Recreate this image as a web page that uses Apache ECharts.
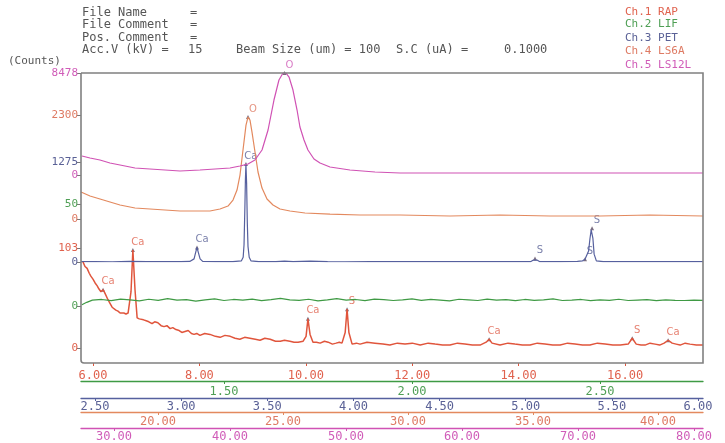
<!DOCTYPE html>
<html><head><meta charset="utf-8">
<script src="https://cdn.jsdelivr.net/npm/echarts@6/dist/echarts.min.js"></script>
<style>html,body{margin:0;padding:0;background:#fff}#c{width:725px;height:443px}</style>
</head><body><div id="c"></div>
<script>
// ---- data ----
const channelNames = ['Ch.1 RAP', 'Ch.2 LIF', 'Ch.3 PET', 'Ch.4 LS6A', 'Ch.5 LS12L'];
const yMaxLabels = [103, 50, 1275, 2300, 8478];
const xMins = [5.775, 1.1197, 2.4187, 16.92, 27.155];
const xMaxs = [17.465, 2.774, 6.029, 41.8, 80.776];
const ticksCh1 = [6, 8, 10, 12, 14, 16];
const ticksCh2 = [1.5, 2.0, 2.5];
const ticksCh3 = [2.5, 3.0, 3.5, 4.0, 4.5, 5.0, 5.5, 6.0];
const ticksCh4 = [20, 25, 30, 35, 40];
const ticksCh5 = [30, 40, 50, 60, 70, 80];

const ch1RAP = [[5.81,89],[5.85,84],[5.89,82],[5.93,77],[5.96,74],[6.0,71],[6.04,67],[6.08,64],[6.11,61],[6.15,58],[6.19,60],[6.22,57],[6.245,55],[6.28,50],[6.32,46],[6.36,42],[6.395,40],[6.43,39],[6.47,38],[6.51,36],[6.545,35],[6.58,36],[6.62,35],[6.66,36],[6.68,38],[6.715,58],[6.75,101],[6.79,60],[6.83,31],[6.87,30],[6.90,29],[6.95,29],[7.0,28],[7.05,27],[7.11,25],[7.16,27],[7.22,26],[7.28,23],[7.335,22],[7.39,23],[7.45,20],[7.5,21],[7.56,19],[7.62,18],[7.67,16],[7.73,17],[7.79,18],[7.85,15],[7.9,14],[7.95,15],[8.01,13],[8.1,15],[8.2,14],[8.3,12],[8.39,11],[8.48,13],[8.58,12],[8.67,10],[8.76,9],[8.85,11],[8.95,10],[9.05,9],[9.14,8],[9.23,10],[9.33,9],[9.43,7],[9.52,7],[9.6,8],[9.70,7],[9.78,6],[9.855,6],[9.95,7],[10.005,12],[10.04,30],[10.08,14],[10.135,6],[10.2,6],[10.27,5],[10.35,7],[10.42,6],[10.5,4],[10.57,5],[10.63,6],[10.68,5],[10.74,16],[10.775,40],[10.81,16],[10.87,4],[10.95,5],[11.02,4],[11.15,6],[11.3,5],[11.45,4],[11.58,3],[11.72,5],[11.865,4],[12.0,5],[12.15,3],[12.3,5],[12.43,4],[12.57,3],[12.71,3],[12.85,5],[12.99,4],[13.13,3],[13.275,3],[13.39,6],[13.445,9],[13.5,5],[13.65,3],[13.8,5],[13.93,4],[14.07,3],[14.215,3],[14.35,5],[14.495,4],[14.64,3],[14.78,3],[14.92,5],[15.06,4],[15.2,3],[15.34,3],[15.48,5],[15.625,4],[15.77,3],[15.91,3],[16.06,4],[16.135,10],[16.21,4],[16.3,3],[16.375,3],[16.47,5],[16.565,4],[16.65,3],[16.735,5],[16.81,8],[16.885,5],[16.96,4],[17.035,3],[17.13,5],[17.22,4],[17.34,3],[17.465,3]];
const ch2LIF = [[1.122,0.6],[1.135,1.8],[1.15,2.9],[1.175,3.2],[1.2,2.6],[1.225,3.4],[1.25,3.0],[1.275,2.5],[1.3,3.3],[1.325,2.8],[1.35,3.6],[1.375,2.9],[1.4,3.1],[1.425,2.4],[1.45,3.0],[1.475,3.5],[1.5,2.7],[1.525,3.2],[1.55,2.9],[1.575,3.4],[1.6,2.6],[1.625,3.1],[1.65,3.7],[1.675,3.0],[1.7,2.8],[1.725,3.3],[1.75,2.5],[1.775,3.0],[1.8,3.6],[1.825,2.9],[1.85,3.2],[1.875,2.6],[1.9,3.4],[1.925,3.1],[1.95,2.7],[1.975,3.0],[2.0,3.5],[2.025,2.8],[2.05,3.2],[2.075,2.9],[2.1,2.5],[2.125,3.3],[2.15,3.0],[2.175,2.7],[2.2,3.4],[2.225,2.9],[2.25,3.1],[2.275,2.6],[2.3,3.2],[2.325,2.8],[2.35,3.0],[2.375,3.5],[2.4,2.7],[2.425,2.9],[2.45,3.2],[2.475,2.6],[2.5,3.0],[2.525,2.8],[2.55,3.3],[2.575,2.7],[2.6,2.9],[2.625,3.1],[2.65,2.6],[2.675,3.0],[2.7,2.8],[2.725,2.7],[2.75,2.9],[2.774,2.8]];
const ch3PET = [[2.419,4],[2.5,6],[2.6,3],[2.7,7],[2.8,4],[2.9,6],[3.0,4],[3.05,7],[3.075,40],[3.085,130],[3.092,185],[3.10,120],[3.11,40],[3.125,8],[3.2,5],[3.3,6],[3.35,15],[3.36,60],[3.365,220],[3.37,700],[3.373,1050],[3.376,1250],[3.38,1000],[3.384,500],[3.388,200],[3.395,60],[3.405,15],[3.45,6],[3.55,4],[3.6,12],[3.65,4],[3.75,10],[3.85,5],[3.95,3],[4.1,5],[4.3,4],[4.5,6],[4.7,4],[4.9,5],[5.03,6],[5.045,25],[5.054,45],[5.065,25],[5.08,6],[5.2,5],[5.3,7],[5.33,15],[5.344,35],[5.355,50],[5.365,140],[5.373,300],[5.38,410],[5.385,430],[5.39,300],[5.397,100],[5.41,15],[5.45,5],[5.6,4],[5.8,5],[6.029,4]];
const ch4LS6A = [[16.92,597],[17.28,508],[17.68,442],[18.08,376],[18.48,309],[19.08,243],[19.68,221],[20.28,199],[20.88,177],[21.48,177],[22.08,177],[22.48,221],[22.8,287],[23.0,420],[23.16,641],[23.28,972],[23.4,1525],[23.52,2077],[23.6,2254],[23.68,2188],[23.76,1923],[23.88,1481],[24.0,1039],[24.16,685],[24.36,442],[24.6,309],[24.88,221],[25.28,177],[25.88,133],[26.88,110],[28.08,88],[29.68,88],[31.68,66],[33.68,88],[35.68,66],[37.68,66],[39.68,88],[41.8,66]];
const ch5LS12L = [[27.24,1579],[27.93,1413],[28.79,1247],[29.65,997],[30.52,831],[31.81,582],[33.1,499],[34.4,416],[35.69,332],[37.41,416],[38.71,499],[40.0,582],[40.86,748],[41.55,914],[42.15,1247],[42.76,2078],[43.28,3740],[43.79,6233],[44.22,7895],[44.57,8476],[44.83,8470],[45.09,8144],[45.43,7064],[45.78,5402],[46.03,3989],[46.38,2909],[46.72,2078],[47.24,1330],[47.76,997],[48.62,665],[50.34,416],[52.5,249],[54.66,166],[58.97,166],[63.28,166],[71.9,166],[80.776,166]];

const peaksCh1 = [[6.19,60,'Ca'],[6.75,101,'Ca'],[10.04,30,'Ca'],[10.775,40,'S'],[13.445,9,'Ca'],[16.135,10,'S'],[16.81,8,'Ca']];
const peaksCh3 = [[3.092,185,'Ca'],[3.376,1250,'Ca'],[5.054,45,'S'],[5.344,35,'S'],[5.385,430,'S']];
const peaksCh4 = [[23.6,2254,'O']];
const peaksCh5 = [[44.7,8476,'O']];

const header = ['File Name', 'File Comment', 'Pos. Comment'];

// ---- chart ----
const colors = ['#e0553c', '#3f9a44', '#56609e', '#e3895e', '#d052b4'];
const labelColors = ['#e0624e', '#4f9f55', '#5a6196', '#de7a63', '#d05cb8'];
const gridTops = [248, 204, 162, 115, 73];
const gridHeights = [100, 102, 100, 104, 102];
const axisOffsets = [15, 75, 136, 193, 253];
const labelMargins = [7, 5, 3, 4, 3];
const allTicks = [ticksCh1, ticksCh2, ticksCh3, ticksCh4, ticksCh5];
const seriesData = [ch1RAP, ch2LIF, ch3PET, ch4LS6A, ch5LS12L];
const peakData = [peaksCh1, null, peaksCh3, peaksCh4, peaksCh5];
const mono = 'DejaVu Sans Mono';

const grids = [], xAxes = [], yAxes = [], series = [];
for (let i = 0; i < 5; i++) {
  grids.push({ left: 81, right: 22, top: gridTops[i], height: gridHeights[i] });
  xAxes.push({
    type: 'value', gridIndex: i, min: xMins[i], max: xMaxs[i], position: 'bottom',
    offset: axisOffsets[i],
    axisLine: { show: i !== 0, onZero: false, lineStyle: { color: colors[i], width: 1.3 } },
    axisTick: { show: true, customValues: allTicks[i], length: 3, lineStyle: { color: colors[i] } },
    axisLabel: { customValues: allTicks[i], formatter: v => v.toFixed(2), color: labelColors[i],
      fontFamily: mono, fontSize: 12, margin: labelMargins[i] },
    splitLine: { show: false }
  });
  yAxes.push({
    type: 'value', gridIndex: i, min: 0, max: yMaxLabels[i], interval: yMaxLabels[i],
    axisLine: { show: false, onZero: false },
    axisTick: { show: true, length: 4, lineStyle: { color: '#777' } },
    axisLabel: { color: labelColors[i], fontFamily: mono, fontSize: 11, margin: 3,
      formatter: v => String(v), showMinLabel: true, showMaxLabel: true },
    splitLine: { show: false }
  });
  series.push({
    type: 'line', name: channelNames[i], xAxisIndex: i, yAxisIndex: i,
    data: seriesData[i], showSymbol: false, animation: false,
    lineStyle: { color: colors[i], width: i === 0 ? 1.5 : 1.2 }
  });
  if (peakData[i]) {
    series.push({
      type: 'scatter', xAxisIndex: i, yAxisIndex: i, data: peakData[i], animation: false,
      symbol: 'triangle', symbolSize: 4, itemStyle: { color: '#5a4a60' },
      label: { show: true, position: 'top', distance: 1, offset: [5, 0],
        formatter: p => p.data[2], color: labelColors[i], fontFamily: 'DejaVu Sans', fontSize: 10 }
    });
  }
}

const graphic = [
  { type: 'rect', shape: { x: 81, y: 73, width: 622, height: 290, r: [0, 0, 0, 3] }, silent: true,
    style: { fill: 'none', stroke: '#808080', lineWidth: 1.6 }, z: 100 },
  { type: 'text', left: 8, top: 56, style: { text: '(Counts)', font: '11px ' + mono, fill: '#555' } }
];
const hdrY = [7, 19, 32];
header.forEach((h, k) => {
  graphic.push({ type: 'text', left: 82, top: hdrY[k], style: { text: h, font: '12px ' + mono, fill: '#555' } });
  graphic.push({ type: 'text', left: 190, top: hdrY[k], style: { text: '=', font: '12px ' + mono, fill: '#555' } });
});
const accParts = [['Acc.V (kV) =', 82], ['15', 188], ['Beam Size (um) = 100', 236], ['S.C (uA) =', 396], ['0.1000', 504]];
accParts.forEach(([t, x]) => graphic.push({ type: 'text', left: x, top: 44, style: { text: t, font: '12px ' + mono, fill: '#555' } }));
const legY = [7, 19, 33, 46, 60];
channelNames.forEach((n, k) => graphic.push({ type: 'text', left: 625, top: legY[k], style: { text: n, font: '11px ' + mono, fill: labelColors[k] } }));

const chart = echarts.init(document.getElementById('c'));
chart.setOption({ animation: false, grid: grids, xAxis: xAxes, yAxis: yAxes, series, graphic });
</script></body></html>
